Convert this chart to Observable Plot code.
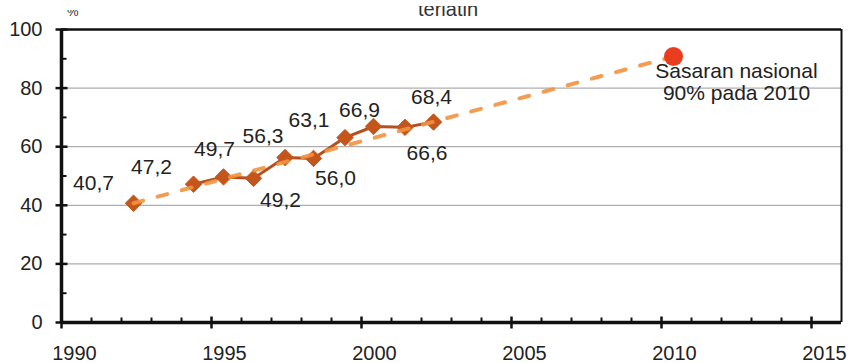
<!DOCTYPE html>
<html><head><meta charset="utf-8">
<script src="https://cdn.jsdelivr.net/npm/d3@7"></script>
<script src="https://cdn.jsdelivr.net/npm/@observablehq/plot@0.6"></script>
<style>
body{margin:0;background:#fff;}
#wrap{position:relative;width:853px;height:363px;}
#chart svg{display:block;}
.clip{position:absolute;overflow:hidden;font-family:"Liberation Sans",Arial,sans-serif;color:#333;white-space:nowrap;}
.clip span{position:absolute;line-height:1;}
</style>
</head><body><div id="wrap"><div id="chart"></div>
<div class="clip" style="left:60px;top:10px;width:30px;height:8px;"><span id="pct" style="font-size:13px;left:7px;top:-5px;"></span></div>
<div class="clip" style="left:400px;top:6px;width:110px;height:14px;"><span id="hdr" style="font-size:20px;left:18px;top:-7px;"></span></div>
</div>
<script>
// Data
const years  = [1992.4, 1994.4, 1995.4, 1996.4, 1997.45, 1998.4, 1999.45, 2000.4, 2001.45, 2002.4];
const values = [40.7, 47.2, 49.7, 49.2, 56.3, 56.0, 63.1, 66.9, 66.6, 68.4];
const valueLabels = ["40,7", "47,2", "49,7", "49,2", "56,3", "56,0", "63,1", "66,9", "66,6", "68,4"];
const targetYear = 2010.4;
const targetValue = 90.8;
const targetLabel = "Sasaran nasional\n90% pada 2010";
const xTicks = [1990, 1995, 2000, 2005, 2010, 2015];
const yTicks = [0, 20, 40, 60, 80, 100];
const yMinorTicks = [10, 30, 50, 70, 90];
const xMinorTicks = d3.range(1991, 2016).filter(y => y % 5 !== 0);
const unitLabel = "%";
const headerFragment = "terlatih";

document.getElementById("pct").textContent = unitLabel;
document.getElementById("hdr").textContent = headerFragment;

// label placement (pixels) relative to each point
const labelPlacement = [[-40,-20],[-42,-17],[-9,-28],[27,22],[-22,-21],[22,20],[-36,-17],[-14,-16],[22,26],[-2,-25]];

const points = years.map((x, i) => ({x, y: values[i], label: valueLabels[i]}));
const measured = points.slice(1);
const trend = [points[0], {x: targetYear, y: targetValue}];

// tick-shaped symbols
const rOf = s => Math.sqrt(s / Math.PI);
const vTick = {draw(c, s) { const r = rOf(s); c.moveTo(0, -r); c.lineTo(0, r); }};
const hTick = {draw(c, s) { const r = rOf(s); c.moveTo(-r, 0); c.lineTo(r, 0); }};
const upTick = {draw(c, s) { const r = rOf(s); c.moveTo(0, 1); c.lineTo(0, -r); }};
const inTick = {draw(c, s) { const r = rOf(s); c.moveTo(-1, 0); c.lineTo(r, 0); }};

const font = "Liberation Sans, Arial, sans-serif";

const chart = Plot.plot({
  width: 853,
  height: 363,
  marginLeft: 61,
  marginRight: 12,
  marginTop: 29,
  marginBottom: 41,
  style: {fontFamily: font, background: "#fff", overflow: "visible"},
  x: {domain: [1990, 2016], axis: null},
  y: {domain: [0, 100], axis: null},
  marks: [
    Plot.gridY([20, 40, 60, 80], {stroke: "#9a9a9a", strokeOpacity: 1, strokeWidth: 1}),
    Plot.ruleY([100], {stroke: "#111", strokeWidth: 2.5}),
    Plot.ruleX([2016], {stroke: "#111", strokeWidth: 2}),
    Plot.axisX({ticks: xTicks, tickSize: 0, tickPadding: 23, tickFormat: d => String(d), fontSize: 20, fill: "#222", dx: 13, label: null}),
    Plot.axisY({ticks: yTicks, tickSize: 0, tickPadding: 19, fontSize: 20, fill: "#222", label: null}),
    Plot.ruleX([1990], {stroke: "#111", strokeWidth: 3.5}),
    Plot.ruleY([0], {stroke: "#111", strokeWidth: 3.5}),
    // ticks
    Plot.dot(xMinorTicks, {x: d => d, y: () => 0, symbol: upTick, r: 5, fill: "none", stroke: "#111", strokeWidth: 2}),
    Plot.dot(xTicks, {x: d => d, y: () => 0, symbol: vTick, r: 6, fill: "none", stroke: "#111", strokeWidth: 2.5}),
    Plot.dot(yMinorTicks, {x: () => 1990, y: d => d, symbol: inTick, r: 5, fill: "none", stroke: "#111", strokeWidth: 2}),
    Plot.dot(yTicks, {x: () => 1990, y: d => d, symbol: hTick, r: 6, fill: "none", stroke: "#111", strokeWidth: 2.5}),
    // measured series
    Plot.line(measured, {x: "x", y: "y", stroke: "#b5501d", strokeWidth: 3}),
    Plot.dot(points, {x: "x", y: "y", symbol: "diamond2", r: 7.4, fill: "#c4561c", stroke: "#c4561c", strokeWidth: 1}),
    // trend to target
    Plot.line(trend, {x: "x", y: "y", stroke: "#f2923f", strokeWidth: 4, strokeDasharray: "10,15", strokeOpacity: 0.9}),
    Plot.dot([{x: targetYear, y: targetValue}], {x: "x", y: "y", r: 9.5, fill: "#ea3d1f"}),
    Plot.text([{x: targetYear, y: targetValue}], {x: "x", y: "y", text: () => targetLabel, textAnchor: "middle", lineAnchor: "top", dx: 63, dy: 5, fontSize: 21, lineHeight: 1.08, fill: "#222"}),
    ...points.map((p, i) => Plot.text([p], {x: "x", y: "y", text: "label", dx: labelPlacement[i][0], dy: labelPlacement[i][1], fontSize: 21, fill: "#222"}))
  ]
});
document.getElementById("chart").appendChild(chart);
</script>
</body></html>
